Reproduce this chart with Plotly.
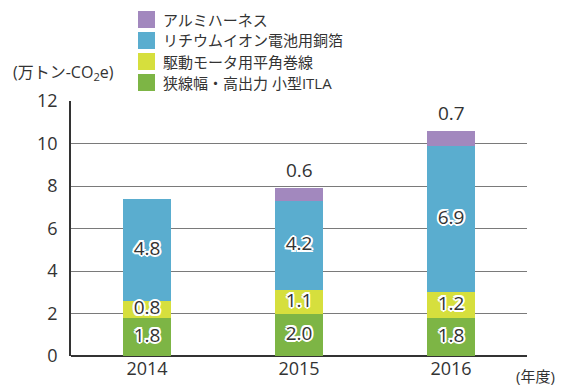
import plotly.graph_objects as go

# Fiscal years and CO2 reduction contribution by product (10k t-CO2e)
years = ["2014", "2015", "2016"]
series_names = [
    "狭線幅・高出力 小型ITLA",
    "駆動モータ用平角巻線",
    "リチウムイオン電池用銅箔",
    "アルミハーネス",
]
itla = [1.8, 2.0, 1.8]
winding = [0.8, 1.1, 1.2]
copper_foil = [4.8, 4.2, 6.9]
harness = [None, 0.6, 0.7]

series_values = [itla, winding, copper_foil, harness]
colors = ["#7db545", "#d6df3d", "#5aadcf", "#a288be"]

FONT = "Open Sans, Noto Sans CJK JP, sans-serif"
TXT = "#333333"
OUTLINE = ", ".join(
    f"{dx}px {dy}px 0 #ffffff"
    for dx, dy in [(-2, 0), (2, 0), (0, -2), (0, 2), (-1.5, -1.5), (1.5, -1.5), (-1.5, 1.5), (1.5, 1.5)]
)

W, H = 561, 385
L, R, T, B = 71, 34, 101, 29
PW, PH = W - L - R, H - T - B


def px_x(x):
    return (x - L) / PW


def px_y(y):
    return (H - B - y) / PH


fig = go.Figure()
for name, vals, col in zip(series_names, series_values, colors):
    fig.add_trace(go.Bar(
        x=years, y=[v if v is not None else 0 for v in vals], name=name,
        marker=dict(color=col, line=dict(width=0)),
        hoverinfo="skip", showlegend=False,
    ))

# value labels: outlined inside the lower three segments, plain above the top one
base = [0.0] * len(years)
for idx, vals in enumerate(series_values):
    xs, ys, ts = [], [], []
    for i, v in enumerate(vals):
        if v is None:
            continue
        if idx < 3:
            xs.append(years[i]); ys.append(base[i] + v / 2); ts.append(f"{v:.1f}")
        base[i] += v
    if idx < 3:
        fig.add_trace(go.Scatter(
            x=xs, y=ys, text=ts, mode="text", showlegend=False, hoverinfo="skip",
            textfont=dict(family=FONT, size=19, color=TXT, shadow=OUTLINE),
        ))

annotations = []
for i, v in enumerate(harness):
    if v is None:
        continue
    # category index as x position on the category axis
    annotations.append(dict(text=f"{v:.1f}", x=i, y=base[i], xref="x", yref="y",
                            yanchor="bottom", yshift=3, showarrow=False,
                            font=dict(size=19, color=TXT)))

# legend: colour squares with names, top entry is the top of the stack
shapes = []
for k, (name, col) in enumerate(zip(reversed(series_names), reversed(colors))):
    cy = 19.5 + k * 21
    shapes.append(dict(type="rect", xref="paper", yref="paper",
                       x0=px_x(138), x1=px_x(155), y0=px_y(cy + 8.5), y1=px_y(cy - 8.5),
                       fillcolor=col, line=dict(width=0)))
    annotations.append(dict(text=name, xref="paper", yref="paper",
                            x=px_x(161), y=px_y(cy), xanchor="left", yanchor="middle",
                            showarrow=False, font=dict(size=15, color=TXT)))

annotations += [
    dict(text="(万トン-CO<sub>2</sub>e)", xref="paper", yref="paper",
         x=px_x(11), y=px_y(73), xanchor="left", yanchor="middle",
         showarrow=False, font=dict(size=16, color=TXT)),
    dict(text="(年度)", xref="paper", yref="paper",
         x=px_x(535), y=px_y(376), xanchor="center", yanchor="middle",
         showarrow=False, font=dict(size=15, color=TXT)),
]

fig.update_layout(
    width=W, height=H,
    margin=dict(l=L, r=R, t=T, b=B, autoexpand=False),
    paper_bgcolor="white", plot_bgcolor="white",
    barmode="stack", bargap=0.68,
    font=dict(family=FONT, color=TXT, size=16),
    showlegend=False,
    xaxis=dict(
        type="category", range=[-0.5, 2.5], showgrid=False, ticks="",
        tickfont=dict(size=18, color=TXT), showline=False,
    ),
    yaxis=dict(
        range=[0, 12], dtick=2, showgrid=True, gridcolor="#7a7a7a", gridwidth=1,
        zeroline=True, zerolinecolor="#333333", zerolinewidth=2,
        showline=True, linecolor="#333333", linewidth=1.5,
        ticks="", ticklabelstandoff=8,
        tickfont=dict(size=18, color=TXT),
    ),
    shapes=shapes,
    annotations=annotations,
)

fig.write_html("out.html")
